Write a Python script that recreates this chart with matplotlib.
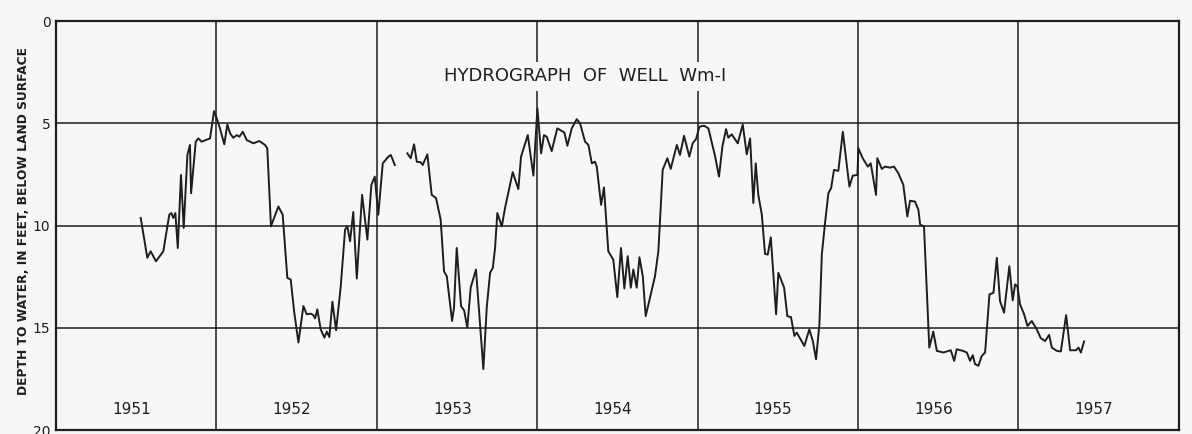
import numpy as np
import matplotlib.pyplot as plt

# Depth to water in well Wm-1 (feet below land surface), read off the hydrograph
# dates are decimal years; NaN marks the gap in the record late 1953
dates = [
    1951.528, 1951.569, 1951.590, 1951.623, 1951.669, 1951.706, 1951.719, 1951.731,
    1951.744, 1951.759, 1951.779, 1951.796, 1951.819, 1951.835, 1951.842, 1951.871,
    1951.887, 1951.908, 1951.960, 1951.985, 1952.002, 1952.022, 1952.049, 1952.068,
    1952.085, 1952.105, 1952.127, 1952.143, 1952.164, 1952.189, 1952.230, 1952.267,
    1952.303, 1952.317, 1952.340, 1952.386, 1952.413, 1952.442, 1952.463, 1952.484,
    1952.511, 1952.542, 1952.563, 1952.588, 1952.604, 1952.615, 1952.629, 1952.650,
    1952.673, 1952.688, 1952.704, 1952.723, 1952.746, 1952.775, 1952.802, 1952.816,
    1952.833, 1952.853, 1952.875, 1952.908, 1952.941, 1952.966, 1952.987, 1953.009,
    1953.037, 1953.072, 1953.087, 1953.112, 1953.150,
    1953.190, 1953.211, 1953.232, 1953.249, 1953.274, 1953.286, 1953.315, 1953.342,
    1953.369, 1953.398, 1953.419, 1953.436, 1953.469, 1953.481, 1953.498, 1953.525,
    1953.544, 1953.564, 1953.585, 1953.618, 1953.664, 1953.685, 1953.706, 1953.723,
    1953.737, 1953.751, 1953.779, 1953.799, 1953.847, 1953.882, 1953.899, 1953.941,
    1953.976, 1954.001, 1954.024, 1954.042, 1954.059, 1954.090, 1954.125, 1954.169,
    1954.188, 1954.215, 1954.246, 1954.267, 1954.298, 1954.319, 1954.340, 1954.360,
    1954.371, 1954.398, 1954.416, 1954.443, 1954.474, 1954.499, 1954.522, 1954.543,
    1954.564, 1954.583, 1954.599, 1954.620, 1954.637, 1954.658, 1954.676, 1954.734,
    1954.755, 1954.782, 1954.811, 1954.832, 1954.870, 1954.890, 1954.915, 1954.948,
    1954.969, 1954.990, 1955.011, 1955.040, 1955.067, 1955.109, 1955.133, 1955.154,
    1955.177, 1955.191, 1955.212, 1955.250, 1955.281, 1955.306, 1955.327, 1955.347,
    1955.362, 1955.378, 1955.400, 1955.420, 1955.437, 1955.456, 1955.489, 1955.503,
    1955.539, 1955.559, 1955.582, 1955.603, 1955.618, 1955.665, 1955.696, 1955.718,
    1955.738, 1955.759, 1955.774, 1955.794, 1955.815, 1955.832, 1955.850, 1955.877,
    1955.905, 1955.946, 1955.967, 1955.996, 1956.002, 1956.029, 1956.061, 1956.079,
    1956.112, 1956.120, 1956.148, 1956.168, 1956.200, 1956.224, 1956.251, 1956.282,
    1956.307, 1956.324, 1956.355, 1956.376, 1956.387, 1956.411, 1956.444, 1956.469,
    1956.491, 1956.532, 1956.578, 1956.599, 1956.615, 1956.653, 1956.678, 1956.698,
    1956.715, 1956.729, 1956.750, 1956.771, 1956.792, 1956.819, 1956.844, 1956.865,
    1956.885, 1956.910, 1956.943, 1956.964, 1956.979, 1956.993, 1957.010, 1957.035,
    1957.056, 1957.083, 1957.114, 1957.139, 1957.166, 1957.191, 1957.208, 1957.239,
    1957.264, 1957.297, 1957.322, 1957.359, 1957.374, 1957.389, 1957.409,
]
depth_ft = [
    9.63, 11.58, 11.26, 11.75, 11.26, 9.47, 9.39, 9.63,
    9.39, 11.10, 7.53, 10.12, 6.55, 6.06, 8.42, 5.90,
    5.74, 5.90, 5.74, 4.41, 4.76, 5.25, 6.03, 5.06,
    5.49, 5.71, 5.58, 5.66, 5.42, 5.82, 5.98, 5.87,
    6.06, 6.23, 10.04, 9.07, 9.47, 12.56, 12.64, 14.18,
    15.72, 13.94, 14.34, 14.31, 14.38, 14.54, 14.10, 15.08,
    15.48, 15.19, 15.45, 13.73, 15.12, 12.97, 10.20, 10.04,
    10.77, 9.34, 12.59, 8.50, 10.69, 8.01, 7.61, 9.47,
    6.96, 6.63, 6.55, 7.04, np.nan,
    6.47, 6.71, 6.03, 6.88, 6.91, 7.04, 6.52, 8.50,
    8.66, 9.72, 12.24, 12.48, 14.67, 14.02, 11.10, 13.94,
    14.15, 14.99, 13.04, 12.15, 17.02, 14.02, 12.31, 12.07,
    11.10, 9.39, 10.04, 9.15, 7.39, 8.22, 6.63, 5.58,
    7.56, 4.28, 6.47, 5.58, 5.66, 6.36, 5.25, 5.45,
    6.10, 5.25, 4.80, 5.01, 5.90, 6.06, 6.96, 6.88,
    7.12, 8.99, 8.14, 11.26, 11.67, 13.50, 11.10, 13.08,
    11.50, 13.04, 12.15, 13.04, 11.55, 12.48, 14.43, 12.48,
    11.26, 7.28, 6.71, 7.23, 6.06, 6.55, 5.61, 6.63,
    5.98, 5.77, 5.17, 5.12, 5.25, 6.63, 7.61, 6.15,
    5.29, 5.71, 5.54, 5.98, 5.06, 6.52, 5.74, 8.90,
    6.96, 8.50, 9.47, 11.39, 11.42, 10.58, 14.34, 12.31,
    13.04, 14.43, 14.48, 15.40, 15.24, 15.89, 15.08, 15.65,
    16.54, 14.83, 11.42, 9.88, 8.42, 8.17, 7.28, 7.33,
    5.42, 8.10, 7.56, 7.53, 6.23, 6.71, 7.12, 6.96,
    8.50, 6.71, 7.23, 7.12, 7.17, 7.12, 7.44, 8.01,
    9.56, 8.79, 8.83, 9.23, 9.96, 10.04, 15.97, 15.19,
    16.13, 16.21, 16.10, 16.62, 16.05, 16.13, 16.21, 16.62,
    16.34, 16.78, 16.86, 16.38, 16.21, 13.37, 13.29, 11.58,
    13.70, 14.26, 11.99, 13.66, 12.88, 12.97, 13.86, 14.34,
    14.91, 14.67, 15.08, 15.51, 15.65, 15.35, 15.97, 16.13,
    16.16, 14.38, 16.10, 16.10, 15.97, 16.21, 15.67,
]

years = [1951, 1952, 1953, 1954, 1955, 1956, 1957]
depth_ticks = [0, 5, 10, 15, 20]

ink = "#1e1e1e"
paper = "#f7f7f5"

fig = plt.figure(figsize=(11.92, 4.34), dpi=100, facecolor=paper)
ax = fig.add_axes([0.047, 0.0092, 0.942, 0.9424])
ax.set_facecolor(paper)

# grid: year boundaries and every 5 ft
for yr in years[1:]:
    ax.axvline(yr, color=ink, linewidth=1.1, zorder=1)
for d in depth_ticks[1:-1]:
    ax.axhline(d, color=ink, linewidth=1.1, zorder=1)

ax.plot(dates, depth_ft, color=ink, linewidth=1.4, zorder=3)

ax.set_xlim(1951, 1958)
ax.set_ylim(20, 0)
ax.set_xticks([])
ax.set_yticks(depth_ticks)
ax.set_yticklabels([str(d) for d in depth_ticks], fontsize=10, color=ink)
ax.tick_params(axis="y", length=0, pad=4)
for s in ax.spines.values():
    s.set_linewidth(1.6)
    s.set_color(ink)

for yr in years:
    ax.text(yr + 0.47, 19.0, str(yr), ha="center", va="center",
            fontsize=11, color=ink)

ax.text(1954.30, 2.7, "HYDROGRAPH  OF  WELL  Wm-I", ha="center", va="center",
        fontsize=13, fontweight="medium", color=ink, zorder=4,
        bbox=dict(facecolor=paper, edgecolor="none", pad=4))

ax.set_ylabel("DEPTH TO WATER, IN FEET, BELOW LAND SURFACE",
              fontsize=8.8, fontweight="bold", color=ink)
ax.yaxis.set_label_coords(-0.023, 0.51)

fig.savefig("out.png", dpi=100, facecolor=paper)
